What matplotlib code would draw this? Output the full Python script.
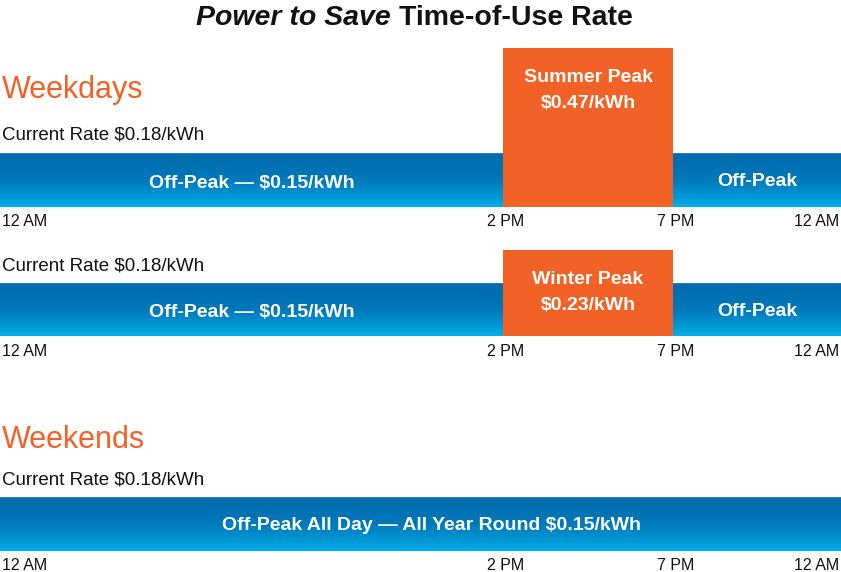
import numpy as np
import matplotlib
matplotlib.use("Agg")
import matplotlib.pyplot as plt
from matplotlib import font_manager
from matplotlib.colors import LinearSegmentedColormap
from matplotlib.patches import Rectangle

# hours of the day (0 = 12 AM)
tick_hours = [0, 14, 19, 24]
tick_labels = ["12 AM", "2 PM", "7 PM", "12 AM"]
peak_start, peak_end = 14, 19

rows = ["Weekdays summer", "Weekdays winter", "Weekends"]
current_rate = [0.18, 0.18, 0.18]
offpeak_rate = [0.15, 0.15, 0.15]
peak_names = ["Summer Peak", "Winter Peak", None]
peak_rate = [0.47, 0.23, None]

W, H = 841, 572
fig = plt.figure(figsize=(W / 100, H / 100), dpi=100)
ax = fig.add_axes([0, 0, 1, 1])

# the infographic isn't drawn to scale; piecewise axis so ticks land where they do
scale_h = [0, 14, 19, 24]
scale_p = [0, 14.354, 19.206, 24]
ax.set_xscale("function", functions=(lambda h: np.interp(h, scale_h, scale_p),
                                     lambda p: np.interp(p, scale_p, scale_h)))
ax.set_xlim(0, 24)
ax.set_ylim(H, 0)
ax.axis("off")

names = {f.name for f in font_manager.fontManager.ttflist}
narrow = "Liberation Sans Narrow" if "Liberation Sans Narrow" in names else "Liberation Sans"
cond = 16 if narrow != "Liberation Sans" else 13.5
wide = "Liberation Sans"

orange = "#f26125"
blues = LinearSegmentedColormap.from_list("bar", [
    (0.0, "#3a8bc6"), (0.04, "#006cae"), (0.5, "#0078ba"),
    (0.85, "#009ad7"), (1.0, "#00b0ea")])
grad = np.linspace(0, 1, 256).reshape(-1, 1)

# pixel rows of each band: bar top, bar bottom, peak box top
bar_top = [153, 283, 497]
bar_bot = [207, 336, 551]
box_top = [48, 250, None]
rate_y = [135, 266, 480]


def fx(px):
    return px / W


def fy(py):
    return 1 - py / H


fig.text(fx(391), fy(25), "Power to Save", ha="right", va="baseline",
         fontsize=20.5, fontweight="bold", fontstyle="italic", family=wide, color="#111111")
fig.text(fx(399), fy(25), "Time-of-Use Rate", ha="left", va="baseline",
         fontsize=20.5, fontweight="bold", family=wide, color="#111111")

fig.text(fx(2), fy(90), "Weekdays", ha="left", va="center", fontsize=22,
         family=wide, color=orange)
fig.text(fx(2), fy(440), "Weekends", ha="left", va="center", fontsize=22,
         family=wide, color=orange)

for i in range(len(rows)):
    t, b = bar_top[i], bar_bot[i]
    ax.imshow(grad, cmap=blues, aspect="auto", extent=(0, 24, b, t),
              interpolation="bilinear", zorder=1)
    fig.text(fx(2), fy(rate_y[i]), f"Current Rate ${current_rate[i]:.2f}/kWh",
             ha="left", va="center", fontsize=cond, family=narrow, color="#111111")
    mid = (t + b) / 2 + 4
    inbar = dict(ha="center", va="center", color="white", fontsize=14,
                 fontweight="bold", family=narrow, zorder=3)
    if peak_names[i] is not None:
        bt = box_top[i]
        ax.add_patch(Rectangle((peak_start, bt), peak_end - peak_start, b - bt,
                               facecolor=orange, edgecolor="none", zorder=2))
        pc = (peak_start + peak_end) / 2
        ax.text(pc, bt + 29, peak_names[i], **inbar)
        ax.text(pc, bt + 56, f"${peak_rate[i]:.2f}/kWh", **inbar)
        ax.text(peak_start / 2, mid - 1, f"Off-Peak \u2014 ${offpeak_rate[i]:.2f}/kWh", **inbar)
        ax.text((peak_end + 24) / 2, mid - 2, "Off-Peak", **inbar)
    else:
        ax.text(12, mid - 2, f"Off-Peak All Day \u2014 All Year Round ${offpeak_rate[i]:.2f}/kWh",
                **inbar)
    for h, lab in zip(tick_hours, tick_labels):
        ha = "left" if h == 0 else ("right" if h == 24 else "center")
        dx = 2 if h == 0 else (-2 if h == 24 else 3)
        ax.annotate(lab, (h, b + 15), xytext=(dx * 0.72, 0), textcoords="offset points",
                    ha=ha, va="center", fontsize=11.5, family=wide, color="#111111")

fig.savefig("out.png", dpi=100)
